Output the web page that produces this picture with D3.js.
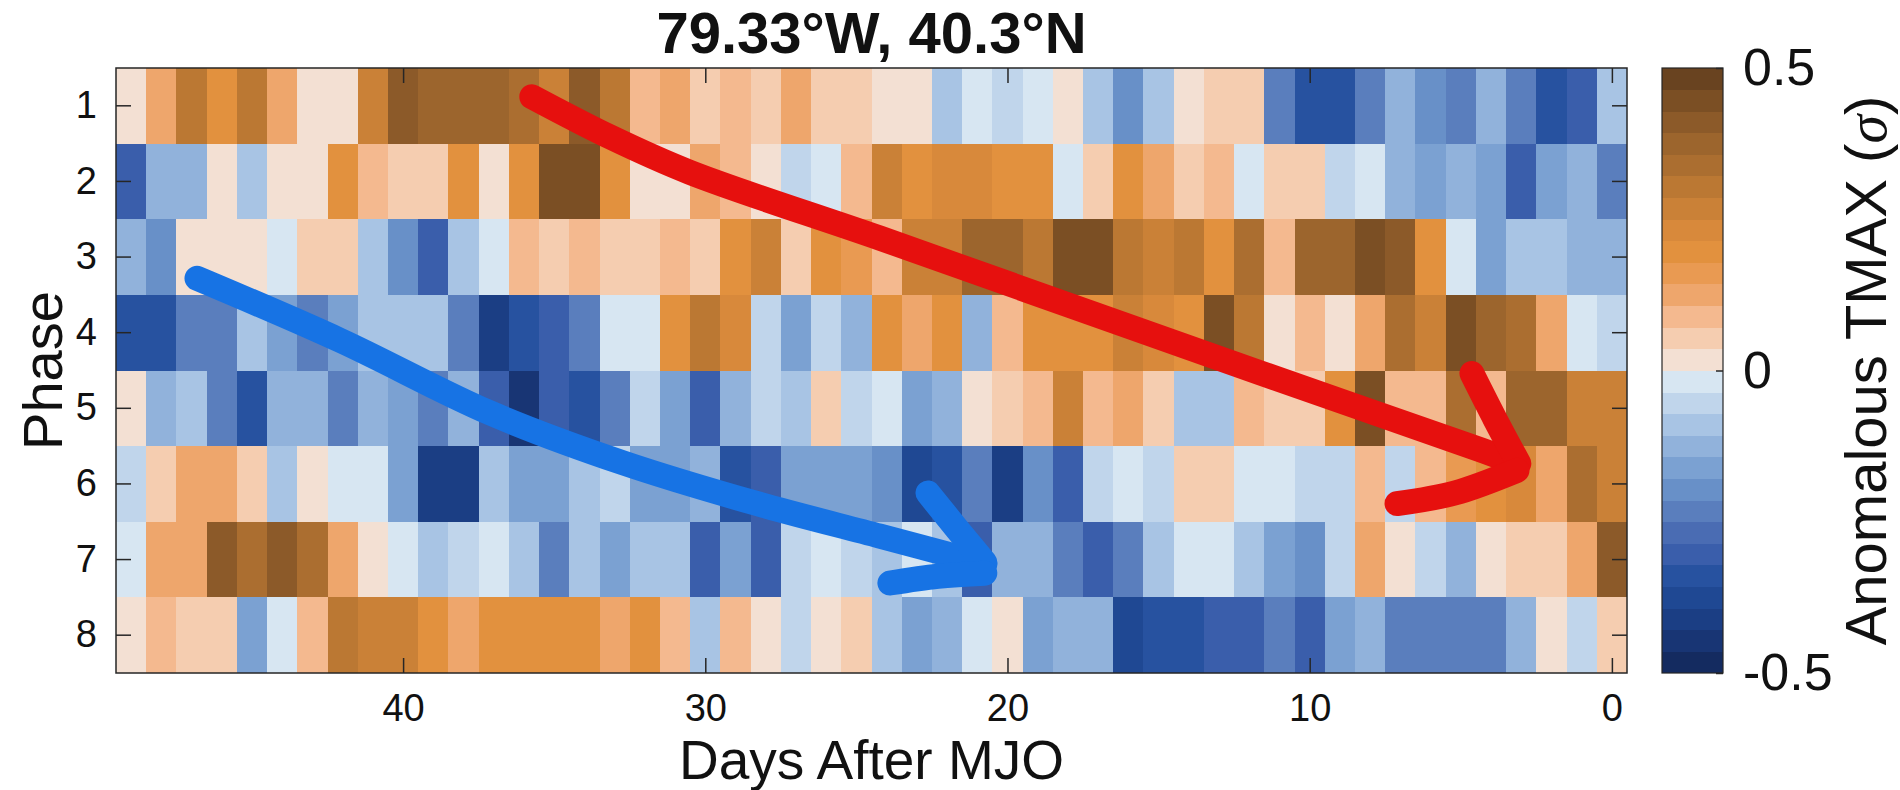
<!DOCTYPE html>
<html>
<head>
<meta charset="utf-8">
<script src="https://cdn.jsdelivr.net/npm/d3@7"></script>
<style>
html,body{margin:0;padding:0;background:#fff;}
svg{display:block;font-family:"Liberation Sans",Arial,Helvetica,sans-serif;}
</style>
</head>
<body>
<svg id="chart" width="1900" height="790"></svg>
<script>
// ---------- data ----------
const title = "79.33°W, 40.3°N";
const xLabel = "Days After MJO";
const yLabel = "Phase";
const cbLabel = "Anomalous TMAX (";
const phases = [1, 2, 3, 4, 5, 6, 7, 8];
// days in column order, left (49) to right (0)
const days = [49,48,47,46,45,44,43,42,41,40,39,38,37,36,35,34,33,32,31,30,29,28,27,26,25,
              24,23,22,21,20,19,18,17,16,15,14,13,12,11,10,9,8,7,6,5,4,3,2,1,0];
const xTicks = [40, 30, 20, 10, 0];
const cbTicks = [-0.5, 0, 0.5];
const cbTickLabels = ["-0.5", "0", "0.5"];

// anomalous TMAX (sigma), one array per phase, ordered like `days`
const phase1 = [0.02,0.12,0.30,0.20,0.30,0.12,0.02,0.02,0.27,0.41,0.38,0.38,0.38,0.34,0.27,0.41,0.30,0.09,0.12,0.05,0.09,0.05,0.12,0.05,0.05,
                0.02,0.02,-0.09,-0.02,-0.05,-0.02,0.02,-0.09,-0.20,-0.09,0.02,0.05,0.05,-0.23,-0.34,-0.34,-0.23,-0.12,-0.20,-0.23,-0.12,-0.23,-0.34,-0.30,-0.09];
const phase2 = [-0.30,-0.12,-0.12,0.02,-0.09,0.02,0.02,0.20,0.09,0.05,0.05,0.20,0.02,0.20,0.45,0.45,0.20,0.02,0.02,0.12,0.09,0.02,-0.05,-0.02,0.09,
                0.27,0.20,0.23,0.23,0.20,0.20,-0.02,0.05,0.20,0.12,0.05,0.09,-0.02,0.05,0.05,-0.05,-0.02,-0.12,-0.16,-0.12,-0.16,-0.30,-0.16,-0.12,-0.23];
const phase3 = [-0.12,-0.20,0.02,0.02,0.02,-0.02,0.05,0.05,-0.09,-0.20,-0.30,-0.09,-0.02,0.09,0.05,0.09,0.05,0.05,0.09,0.05,0.20,0.27,0.05,0.20,0.16,
                0.09,0.27,0.27,0.38,0.38,0.30,0.45,0.45,0.30,0.27,0.30,0.20,0.34,0.09,0.38,0.38,0.45,0.41,0.20,-0.02,-0.16,-0.09,-0.09,-0.12,-0.12];
const phase4 = [-0.34,-0.34,-0.23,-0.23,-0.09,-0.16,-0.23,-0.16,-0.09,-0.09,-0.09,-0.23,-0.41,-0.34,-0.30,-0.23,-0.02,-0.02,0.20,0.30,0.23,-0.05,-0.16,-0.05,-0.12,
                0.20,0.12,0.20,-0.12,0.09,0.20,0.20,0.20,0.27,0.23,0.20,0.45,0.30,0.02,0.09,0.02,0.12,0.34,0.27,0.45,0.38,0.34,0.12,-0.02,-0.05];
const phase5 = [0.02,-0.12,-0.09,-0.23,-0.34,-0.12,-0.12,-0.23,-0.12,-0.16,-0.23,-0.12,-0.30,-0.45,-0.30,-0.34,-0.23,-0.05,-0.16,-0.30,-0.12,-0.05,-0.09,0.05,-0.05,
                -0.02,-0.16,-0.12,0.02,0.05,0.09,0.27,0.09,0.12,0.05,-0.09,-0.09,0.09,0.05,0.05,0.20,0.45,0.09,0.09,0.34,0.09,0.38,0.38,0.27,0.27];
const phase6 = [-0.05,0.05,0.12,0.12,0.05,-0.09,0.02,-0.02,-0.02,-0.16,-0.41,-0.41,-0.09,-0.16,-0.16,-0.09,-0.05,-0.16,-0.16,-0.12,-0.34,-0.30,-0.16,-0.16,-0.16,
                -0.20,-0.38,-0.34,-0.23,-0.41,-0.20,-0.30,-0.05,-0.02,-0.05,0.05,0.05,-0.02,-0.02,-0.05,-0.05,0.09,-0.05,0.09,0.16,0.20,0.23,0.12,0.34,0.27];
const phase7 = [-0.02,0.12,0.12,0.41,0.34,0.41,0.34,0.12,0.02,-0.02,-0.09,-0.05,-0.02,-0.09,-0.23,-0.09,-0.16,-0.09,-0.09,-0.30,-0.16,-0.30,-0.05,-0.02,-0.05,
                -0.09,-0.02,-0.09,-0.30,-0.12,-0.12,-0.23,-0.30,-0.23,-0.09,-0.02,-0.02,-0.09,-0.16,-0.20,-0.05,0.12,0.02,-0.05,-0.12,0.02,0.05,0.05,0.12,0.41];
const phase8 = [0.02,0.09,0.05,0.05,-0.16,-0.02,0.09,0.30,0.27,0.27,0.20,0.12,0.20,0.20,0.20,0.20,0.12,0.20,0.09,-0.09,0.09,0.02,-0.05,0.02,0.05,
                -0.09,-0.16,-0.12,-0.02,0.02,-0.16,-0.12,-0.12,-0.38,-0.34,-0.34,-0.30,-0.30,-0.23,-0.30,-0.16,-0.12,-0.23,-0.23,-0.23,-0.23,-0.12,0.02,-0.05,0.05];
const series = [phase1, phase2, phase3, phase4, phase5, phase6, phase7, phase8];

// hand-drawn annotation arrows, in (day, phase) units
const redShaft  = [[35.74,0.88],[33.16,1.41],[30.51,1.88],[24.22,2.75],[17.94,3.64],[11.65,4.53],[4.27,5.56],[3.14,5.73]];
const redHeadA  = [[4.63,4.54],[3.87,5.14],[3.08,5.73]];
const redHeadB  = [[7.11,6.26],[5.20,6.12],[3.14,5.82]];
const blueShaft = [[46.82,3.28],[42.09,4.10],[37.13,5.06],[32.73,5.72],[28.29,6.26],[24.22,6.69],[20.75,7.06]];
const blueHeadA = [[22.63,6.12],[21.70,6.58],[20.75,7.04]];
const blueHeadB = [[23.89,7.31],[22.30,7.22],[20.75,7.18]];

// 28-step brown/blue colormap, from -0.5 to 0.5
const cmapColors = ["#142b60","#183574","#1b3e84","#1f4893","#2752a0","#3a5eab","#4a6cb3","#5a7ebd","#6890c8","#7ba1d2","#91b2db","#a8c4e4","#c0d5eb","#d7e6f2",
                    "#f3e0d3","#f5cdb0","#f4b98f","#eea66c","#e99a52","#e2913e","#d8893b","#ca8137","#bb7833","#ab6e30","#9c652d","#8c5a29","#7b4f24","#694320"];

// ---------- layout ----------
const svg = d3.select("#chart");
const L = 116, R = 1627, T = 68, B = 673;
const axisColor = "#262626";

const x = d3.scaleLinear().domain([49.5, -0.5]).range([L, R]);
const y = d3.scaleBand().domain(phases).range([T, B]);
const yc = d3.scaleLinear().domain([0.5, 8.5]).range([T, B]); // continuous phase position
const color = d3.scaleQuantize().domain([-0.5, 0.5]).range(cmapColors);

// cells
const cells = [];
series.forEach((vals, i) => vals.forEach((v, j) => cells.push({phase: phases[i], day: days[j], v})));
svg.append("g").selectAll("rect").data(cells).join("rect")
  .attr("x", d => x(d.day + 0.5))
  .attr("y", d => y(d.phase))
  .attr("width", d => x(d.day - 0.5) - x(d.day + 0.5) + 0.4)
  .attr("height", y.bandwidth() + 0.4)
  .attr("fill", d => color(d.v))
  .attr("shape-rendering", "crispEdges");

// arrows
const px = d3.line().x(d => x(d[0])).y(d => yc(d[1])).curve(d3.curveCatmullRom.alpha(0.5));
function drawArrow(parts, col) {
  const g = svg.append("g");
  parts.forEach(p => g.append("path").attr("d", px(p)).attr("fill", "none")
    .attr("stroke", col).attr("stroke-width", 25).attr("stroke-linecap", "round").attr("stroke-linejoin", "round"));
}
drawArrow([redShaft, redHeadA, redHeadB], "#e6100e");
drawArrow([blueShaft, blueHeadA, blueHeadB], "#1773e4");

// axes box
svg.append("rect").attr("x", L).attr("y", T).attr("width", R - L).attr("height", B - T)
  .attr("fill", "none").attr("stroke", axisColor).attr("stroke-width", 1.5);

const tickLen = 15, tickFont = 38;
function styleAxis(g) {
  g.select(".domain").remove();
  g.selectAll(".tick line").attr("stroke", axisColor).attr("stroke-width", 1.5);
  g.selectAll(".tick text").attr("fill", "#111").attr("font-size", tickFont).attr("font-family", "Liberation Sans, Arial, sans-serif");
}
svg.append("g").attr("transform", `translate(0,${B})`)
  .call(d3.axisBottom(x).tickValues(xTicks).tickSize(-tickLen).tickPadding(21).tickFormat(d3.format("d")))
  .call(styleAxis);
svg.append("g").attr("transform", `translate(0,${T})`)
  .call(d3.axisTop(x).tickValues(xTicks).tickSize(-tickLen).tickFormat(""))
  .call(styleAxis)
  .call(g => g.selectAll(".tick text").remove());
svg.append("g").attr("transform", `translate(${L},0)`)
  .call(d3.axisLeft(y).tickSize(-tickLen).tickPadding(19))
  .call(styleAxis);
svg.append("g").attr("transform", `translate(${R},0)`)
  .call(d3.axisRight(y).tickSize(-tickLen).tickFormat(""))
  .call(styleAxis)
  .call(g => g.selectAll(".tick text").remove());

// title & labels
svg.append("text").attr("x", (L + R) / 2).attr("y", 53).attr("text-anchor", "middle")
  .attr("font-size", 58).attr("font-weight", "bold").attr("fill", "#111").text(title);
svg.append("text").attr("x", (L + R) / 2).attr("y", 779).attr("text-anchor", "middle")
  .attr("font-size", 55).attr("fill", "#111").text(xLabel);
svg.append("text").attr("transform", `translate(62,${(T + B) / 2}) rotate(-90)`).attr("text-anchor", "middle")
  .attr("font-size", 56).attr("fill", "#111").text(yLabel);

// colorbar
const cbL = 1662, cbR = 1723;
const cy = d3.scaleLinear().domain([-0.5, 0.5]).range([B, T]);
const steps = cmapColors.map((c, i) => ({c, lo: -0.5 + i / cmapColors.length, hi: -0.5 + (i + 1) / cmapColors.length}));
svg.append("g").selectAll("rect").data(steps).join("rect")
  .attr("x", cbL).attr("width", cbR - cbL)
  .attr("y", d => cy(d.hi)).attr("height", d => cy(d.lo) - cy(d.hi) + 0.4)
  .attr("fill", d => d.c).attr("shape-rendering", "crispEdges");
svg.append("rect").attr("x", cbL).attr("y", T).attr("width", cbR - cbL).attr("height", B - T)
  .attr("fill", "none").attr("stroke", axisColor).attr("stroke-width", 1.2);
const cbAxis = svg.append("g").attr("transform", `translate(${cbR},0)`)
  .call(d3.axisRight(cy).tickValues(cbTicks).tickSize(-7).tickPadding(20).tickFormat((d, i) => cbTickLabels[i]));
cbAxis.select(".domain").remove();
cbAxis.selectAll(".tick line").attr("stroke", axisColor).attr("stroke-width", 1.5);
cbAxis.selectAll(".tick text").attr("font-size", 52).attr("fill", "#111").attr("font-family", "Liberation Sans, Arial, sans-serif");

const cbt = svg.append("text").attr("transform", `translate(1886,${(T + B) / 2}) rotate(-90)`).attr("text-anchor", "middle")
  .attr("font-size", 58).attr("fill", "#111");
cbt.append("tspan").text(cbLabel);
cbt.append("tspan").attr("font-style", "italic").attr("font-family", "Liberation Serif, Times New Roman, serif").text("σ");
cbt.append("tspan").text(")");
</script>
</body>
</html>
